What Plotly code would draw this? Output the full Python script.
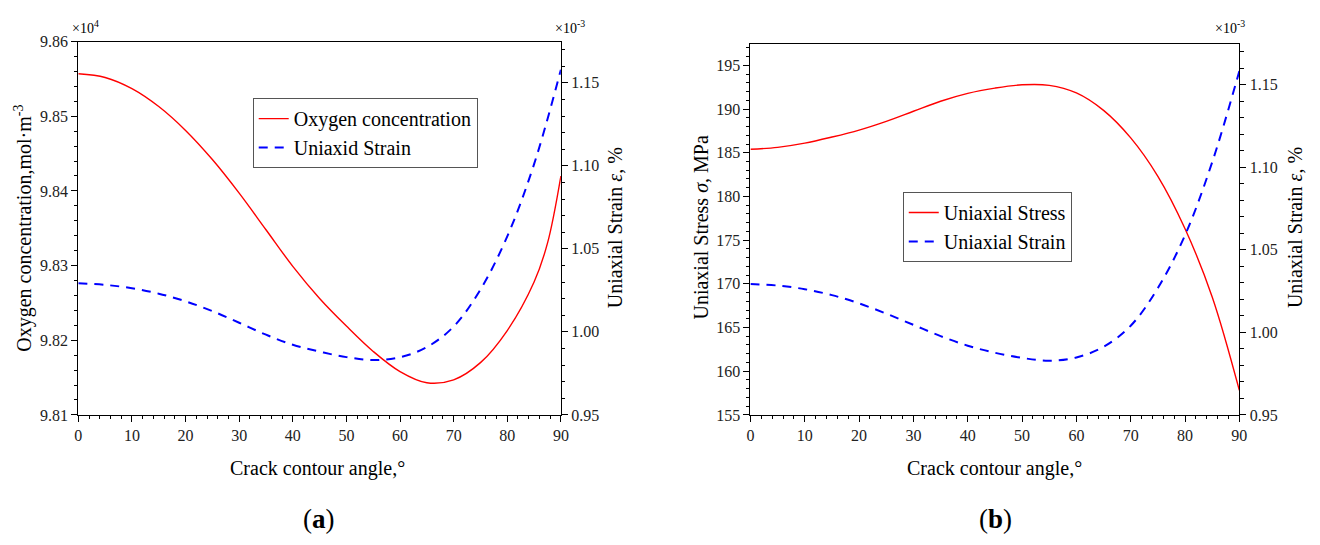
import plotly.graph_objects as go

# ---------------- data ----------------
angle_a_red = [0, 5, 10, 15, 20, 25, 30, 35, 40, 45, 50, 55, 60, 65, 70, 75, 80, 85, 87.5, 90]
oxygen_conc = [9.8557, 9.8552, 9.8537, 9.8513, 9.8481, 9.8442, 9.8397, 9.8348, 9.8299, 9.8256,
               9.8219, 9.8185, 9.8158, 9.8143, 9.8147, 9.8170, 9.8213, 9.8278, 9.8330, 9.8420]

angle_strain = [0, 5, 10, 15, 20, 25, 30, 35, 40, 45, 50, 55, 60, 65, 70, 75, 80, 85, 90]
strain_a = [1.0293, 1.0283, 1.0263, 1.0230, 1.0184, 1.0125, 1.0055, 0.9983, 0.9922, 0.9881,
            0.9848, 0.9830, 0.9847, 0.9908, 1.0032, 1.0255, 1.0575, 1.1010, 1.1579]

angle_b_red = [0, 5, 10, 15, 20, 25, 30, 35, 40, 45, 50, 55, 60, 65, 70, 75, 80, 85, 90]
stress_b = [185.4, 185.62, 186.1, 186.8, 187.6, 188.6, 189.75, 190.9, 191.8, 192.4,
            192.78, 192.72, 191.85, 189.85, 186.7, 182.3, 176.3, 168.5, 157.8]

strain_b = [1.0292, 1.0283, 1.0261, 1.0225, 1.0175, 1.0113, 1.0045, 0.9977, 0.9919, 0.9876,
            0.9845, 0.9828, 0.9848, 0.9912, 1.0040, 1.0268, 1.0588, 1.1030, 1.1582]

x_ticks = [0, 10, 20, 30, 40, 50, 60, 70, 80, 90]

# ---------------- styling ----------------
FONT = "Liberation Serif"
W, H = 1320, 545
RED = "#ff0000"
BLUE = "#0000ff"


def px_x(p):
    return p / W


def px_y(p):
    return 1 - p / H


fig = go.Figure()

fig.add_trace(go.Scatter(x=angle_a_red, y=oxygen_conc, name="Oxygen concentration",
                         mode="lines", line=dict(color=RED, width=1.4, shape="spline", smoothing=1),
                         xaxis="x", yaxis="y", legend="legend"))
fig.add_trace(go.Scatter(x=angle_strain, y=strain_a, name="Uniaxid Strain",
                         mode="lines", line=dict(color=BLUE, width=2, dash="9px,7px", shape="spline", smoothing=1),
                         xaxis="x", yaxis="y2", legend="legend"))
fig.add_trace(go.Scatter(x=angle_b_red, y=stress_b, name="Uniaxial Stress",
                         mode="lines", line=dict(color=RED, width=1.4, shape="spline", smoothing=1),
                         xaxis="x2", yaxis="y3", legend="legend2"))
fig.add_trace(go.Scatter(x=angle_strain, y=strain_b, name="Uniaxial Strain",
                         mode="lines", line=dict(color=BLUE, width=2, dash="9px,7px", shape="spline", smoothing=1),
                         xaxis="x2", yaxis="y4", legend="legend2"))

axis_common = dict(showline=True, linecolor="black", linewidth=1.2, ticks="outside",
                   ticklen=6, tickwidth=1.2, tickcolor="black", showgrid=False, zeroline=False,
                   tickfont=dict(family=FONT, size=16, color="#222222"))

xdom_a = [px_x(75), px_x(562)]
xdom_b = [px_x(753.3), px_x(1246.7)]
ydom_a = [px_y(420), px_y(34.7)]
ydom_b = [px_y(420), px_y(36.7)]


def minor(dt):
    return dict(ticks="outside", ticklen=3.5, tickwidth=1, tickcolor="black", dtick=dt, showgrid=False)


fig.update_layout(
    xaxis=dict(domain=xdom_a, range=[0, 90], tickvals=x_ticks, mirror=True, anchor="y",
               minor=minor(2), **axis_common),
    yaxis=dict(domain=ydom_a, range=[9.81, 9.86], dtick=0.01, tick0=9.81, tickformat=".2f",
               anchor="x", minor=minor(0.002), **axis_common),
    yaxis2=dict(domain=ydom_a, range=[0.95, 1.1748], dtick=0.05, tick0=0.95, tickformat=".2f",
                overlaying="y", side="right", anchor="x", minor=minor(0.01), **axis_common),
    xaxis2=dict(domain=xdom_b, range=[0, 90], tickvals=x_ticks, mirror=True, anchor="y3",
                minor=minor(2), **axis_common),
    yaxis3=dict(domain=ydom_b, range=[155, 197.5], dtick=5, tick0=155, anchor="x2",
                minor=minor(1), **axis_common),
    yaxis4=dict(domain=ydom_b, range=[0.95, 1.1748], dtick=0.05, tick0=0.95, tickformat=".2f",
                overlaying="y3", side="right", anchor="x2", minor=minor(0.01), **axis_common),
)

legend_common = dict(bgcolor="white", bordercolor="#555555", borderwidth=1,
                     font=dict(family=FONT, size=20, color="black"),
                     xanchor="left", yanchor="top", tracegroupgap=0)
fig.update_layout(
    legend=dict(x=px_x(251), y=px_y(93), **legend_common),
    legend2=dict(x=px_x(907), y=px_y(190), **legend_common),
)

ann = []


def add_text(text, x, y, size, angle=0):
    ann.append(dict(text=text, x=px_x(x), y=px_y(y), xref="paper", yref="paper",
                    xanchor="center", yanchor="middle", showarrow=False, textangle=angle,
                    font=dict(family=FONT, size=size, color="black")))


# panel (a)
add_text("Oxygen concentration,mol·m<sup>-3</sup>", 20, 227, 20, -90)
add_text("Uniaxial Strain <i>ε</i>, %", 617, 227, 20, -90)
add_text("Crack contour angle,°", 316, 475, 20)
add_text("×10<sup>4</sup>", 82, 20, 14)
add_text("×10<sup>-3</sup>", 571, 20, 14)
add_text("(<b>a</b>)", 318, 527, 27)
# panel (b)
add_text("Uniaxial Stress <i>σ</i>, MPa", 703, 227, 20, -90)
add_text("Uniaxial Strain <i>ε</i>, %", 1303, 227, 20, -90)
add_text("Crack contour angle,°", 1000, 475, 20)
add_text("×10<sup>-3</sup>", 1237, 20, 14)
add_text("(<b>b</b>)", 1001, 527, 27)

fig.update_layout(
    annotations=ann,
    width=W, height=H, autosize=False,
    margin=dict(l=0, r=0, t=0, b=0),
    paper_bgcolor="white", plot_bgcolor="white",
    font=dict(family=FONT, color="black"),
)

fig.write_html("out.html")
